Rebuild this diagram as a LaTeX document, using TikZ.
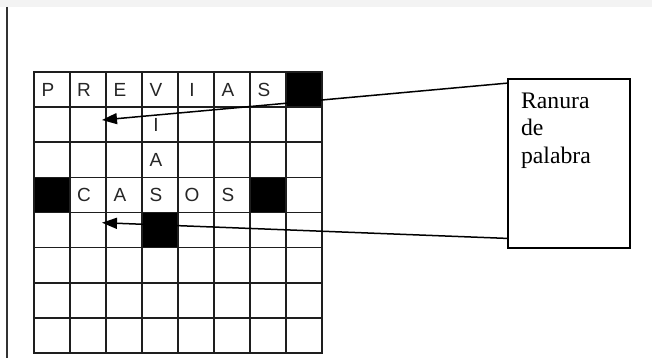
\documentclass[tikz,border=0pt]{standalone}
\usepackage{fontspec}
\setmainfont{Liberation Serif}
\newfontfamily\gridfont{Liberation Sans}
\usetikzlibrary{arrows.meta, positioning, calc}
\definecolor{cline}{HTML}{1E1E1E}
\definecolor{cband}{HTML}{F3F3F3}
\tikzset{
  every picture/.style={line width=1.6pt},
  cell/.style={draw=cline, minimum width=36pt, minimum height=35.125pt, inner sep=0pt},
  blackcell/.style={cell, fill=black},
  letter/.style={font=\gridfont\fontsize{19}{21}\selectfont, text=black!85, inner sep=0pt, xshift=-4pt},
  slotbox/.style={draw=black, line width=1.8pt, minimum width=122.3pt, minimum height=168.4pt, inner sep=0pt},
  slottext/.style={font=\fontsize{23.7}{27.6}\selectfont, align=left, inner sep=0pt},
  pointer/.style={-{Triangle[length=15pt, width=11pt]}, draw=black, line width=1.5pt},
}

\begin{document}
\begin{tikzpicture}[x=1pt, y=-1pt]
  \useasboundingbox (0,0) rectangle (652,358);
  \fill[cband] (0,0) rectangle (652,7);
  \draw[black!80, line width=2pt] (6.8,7) -- (6.8,358);
  % crossword grid, 8 by 8
  \foreach \r in {0,...,7} {
    \foreach \c in {0,...,7} {
      \node[cell] (c-\r-\c) at ({52+36*\c}, {89.56+35.125*\r}) {};
    }
  }
  \foreach \r/\c in {0/7, 3/0, 3/6, 4/3} {
    \node[blackcell] at (c-\r-\c) {};
  }
  \foreach \r/\c/\l in {0/0/P, 0/1/R, 0/2/E, 0/3/V, 0/4/I, 0/5/A, 0/6/S,
                        1/3/I, 2/3/A,
                        3/1/C, 3/2/A, 3/3/S, 3/4/O, 3/5/S} {
    \node[letter] (l-\r-\c) at (c-\r-\c) {\l};
  }
  % label box
  \node[slotbox] (slot) at (568.85,163.5) {};
  \node[slottext, below right=13.3pt and 13.5pt of slot.north west] (slotlabel) {Ranura\\de\\palabra};
  % arrows to the word slots
  \coordinate (tipA) at (102,120);
  \coordinate (tipB) at (102,222.7);
  \draw[pointer] ($(slot.north west)!0.028!(slot.south west)$) -- (tipA);
  \draw[pointer] ($(slot.north west)!0.94!(slot.south west)$) -- (tipB);
\end{tikzpicture}
\end{document}
